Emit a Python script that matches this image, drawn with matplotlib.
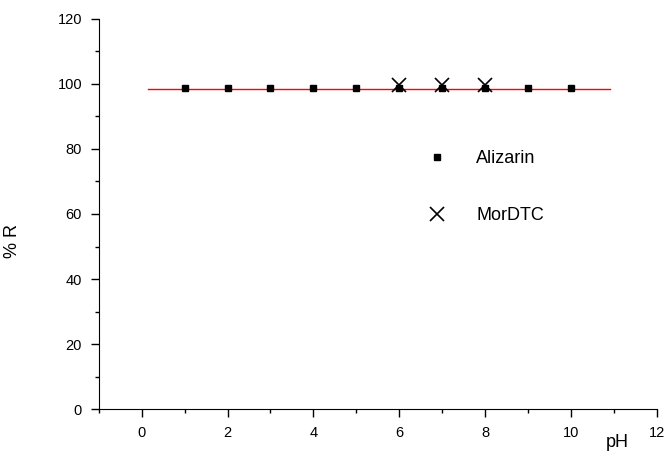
import matplotlib
matplotlib.use("Agg")
import matplotlib.pyplot as plt
from matplotlib.ticker import MultipleLocator

plt.rcParams["font.family"] = ["Liberation Sans", "DejaVu Sans"]

# data
alizarin_ph = [1, 2, 3, 4, 5, 6, 7, 8, 9, 10]
alizarin_r = [98.8, 98.8, 98.7, 98.7, 98.7, 98.8, 98.7, 98.7, 98.7, 98.7]
mordtc_ph = [6, 7, 8]
mordtc_r = [99.8, 99.8, 99.8]
fit_ph = [0.15, 10.9]
fit_r = [98.6, 98.6]

fig = plt.figure(figsize=(6.67, 4.51), dpi=100)
ax = fig.add_axes([0.148, 0.093, 0.837, 0.865])

ax.plot(fit_ph, fit_r, color="#ff0000", lw=1.0, zorder=1)
ax.plot(alizarin_ph, alizarin_r, ls="none", marker="s", ms=5, color="black",
        label="Alizarin", zorder=2)
ax.plot(mordtc_ph, mordtc_r, ls="none", marker="x", ms=10, mew=1.2,
        color="black", label="MorDTC", zorder=3)

ax.set_xlim(-1, 12)
ax.set_ylim(0, 120)
ax.xaxis.set_major_locator(MultipleLocator(2))
ax.xaxis.set_minor_locator(MultipleLocator(1))
ax.yaxis.set_major_locator(MultipleLocator(20))
ax.yaxis.set_minor_locator(MultipleLocator(10))
ax.set_xticks([0, 2, 4, 6, 8, 10, 12])

for side in ("top", "right"):
    ax.spines[side].set_visible(False)
ax.tick_params(which="major", direction="out", length=6, width=1, labelsize=10.5, pad=6)
ax.tick_params(which="minor", direction="out", length=3, width=1)

ax.set_xlabel("pH", fontsize=13)
ax.xaxis.set_label_coords(0.928, -0.065)
ax.set_ylabel("% R", fontsize=13)
ax.yaxis.set_label_coords(-0.14, 0.43)

ax.legend(loc="upper left", bbox_to_anchor=(0.56, 0.705), frameon=False,
          fontsize=13, handlelength=1.0, handletextpad=1.7, labelspacing=2.2,
          numpoints=1)

fig.savefig("out.png", dpi=100)
